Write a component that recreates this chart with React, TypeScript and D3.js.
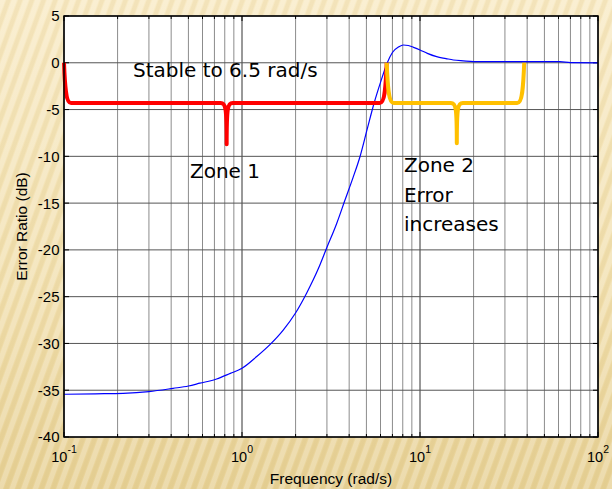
import React from "react";
import * as d3 from "d3";

// error ratio curve
const freq = [0.1, 0.15, 0.215, 0.3, 0.41, 0.5, 0.58, 0.72, 0.86, 1.0, 1.21, 1.44, 1.7, 1.99, 2.31, 2.69, 2.99, 3.4, 3.79, 4.2, 4.6, 5.05, 5.52, 6.0, 6.55, 7.0, 7.6, 8.06, 8.6, 9.2, 10, 11, 12.4, 14, 15.4, 17.5, 20, 25, 30, 40, 61, 70, 100];
const errorDb = [-35.43, -35.38, -35.33, -35.15, -34.8, -34.55, -34.25, -33.8, -33.2, -32.66, -31.4, -30.1, -28.6, -26.8, -24.6, -21.97, -19.8, -17.2, -14.67, -12.3, -10.04, -7.1, -4.33, -2.1, 0.01, 1.1, 1.7, 1.9, 1.85, 1.65, 1.37, 1.0, 0.65, 0.45, 0.3, 0.2, 0.12, 0.12, 0.12, 0.12, 0.12, 0.02, 0];

const yTicks = [5, 0, -5, -10, -15, -20, -25, -30, -35, -40];
const xDecades = [0.1, 1, 10, 100];
const xExponents = ["-1", "0", "1", "2"];

// zone braces: start, tip, end frequency ; edge / level / tip dB
const braceStart = [0.1, 6.5];
const braceTip = [0.82, 16.1];
const braceEnd = [6.5, 38.5];
const braceEdge = [0, 0];
const braceLevel = [-4.3, -4.3];
const braceTipLevel = [-8.7, -8.6];
const braceColors = ["#ff0000", "#ffc000"];

// annotations
const noteText = ["Stable to 6.5 rad/s", "Zone 1", "Zone 2", "Error", "increases"];
const noteFreq = [0.244, 0.51, 8.13, 8.13, 8.13];
const noteDb = [-1.5, -12.3, -11.7, -14.9, -18.0];

const W = 612, H = 489;
const left = 64, right = 598, top = 16, bottom = 437;

export default function App() {
  const x = d3.scaleLog().domain([0.1, 100]).range([left, right]);
  const y = d3.scaleLinear().domain([-40, 5]).range([bottom, top]);
  const isDecade = (t: number) => xDecades.some((d) => Math.abs(d - t) < 1e-9);
  const minor = x.ticks().filter((t) => !isDecade(t));

  const line = d3.line<number>()
    .x((d, i) => x(freq[i]))
    .y((d) => y(d))
    .curve(d3.curveMonotoneX);

  function bracePath(i: number) {
    const x0 = x(braceStart[i]), x1 = x(braceEnd[i]), xt = x(braceTip[i]);
    const y0 = y(braceEdge[i]), yf = y(braceLevel[i]), yt = y(braceTipLevel[i]);
    const r = 7;
    return `M${x0},${y0} C${x0 + 1},${yf - 14} ${x0 + 2},${yf} ${x0 + r},${yf} ` +
      `L${xt - 6},${yf} C${xt - 1},${yf} ${xt},${yf + 4} ${xt},${yt} ` +
      `C${xt},${yf + 4} ${xt + 1},${yf} ${xt + 6},${yf} ` +
      `L${x1 - r},${yf} C${x1 - 2},${yf} ${x1 - 1},${yf - 14} ${x1},${y0}`;
  }

  const font = "'Liberation Sans', Arial, sans-serif";

  return (
    <div>
      <style>{`body{margin:0}`}</style>
      <svg width={W} height={H} style={{ display: "block" }}>
        <defs>
          <linearGradient id="bg" x1="0" y1="0" x2="0" y2="1">
            <stop offset="0" stopColor="#f8eac5" />
            <stop offset="0.6" stopColor="#f1dfae" />
            <stop offset="1" stopColor="#e7d196" />
          </linearGradient>
          <pattern id="stripes" width="11" height="11" patternUnits="userSpaceOnUse" patternTransform="rotate(20)">
            <rect width="5" height="11" fill="#ffffff" opacity="0.22" />
            <rect x="6" width="4" height="11" fill="#c9a95a" opacity="0.1" />
          </pattern>
        </defs>
        <rect width={W} height={H} fill="url(#bg)" />
        <rect width={W} height={H} fill="url(#stripes)" />

        <rect x={left} y={top} width={right - left} height={bottom - top} fill="#fff" />

        {/* grid */}
        {minor.map((t, i) => (
          <line key={"vm" + i} x1={x(t)} x2={x(t)} y1={top} y2={bottom} stroke="#8c8c8c" strokeWidth={1} />
        ))}
        {xDecades.map((t, i) => (
          <line key={"vd" + i} x1={x(t)} x2={x(t)} y1={top} y2={bottom} stroke="#333" strokeWidth={1} />
        ))}
        {yTicks.map((t, i) => (
          <line key={"h" + i} x1={left} x2={right} y1={y(t)} y2={y(t)} stroke="#555" strokeWidth={1} />
        ))}

        {/* ticks */}
        {x.ticks().map((t, i) => {
          const len = isDecade(t) ? 5 : 3;
          return (
            <g key={"xt" + i} stroke="#000" strokeWidth={1}>
              <line x1={x(t)} x2={x(t)} y1={bottom} y2={bottom - len} />
              <line x1={x(t)} x2={x(t)} y1={top} y2={top + len} />
            </g>
          );
        })}
        {yTicks.map((t, i) => (
          <g key={"yt" + i} stroke="#000" strokeWidth={1}>
            <line x1={left} x2={left + 5} y1={y(t)} y2={y(t)} />
            <line x1={right} x2={right - 5} y1={y(t)} y2={y(t)} />
          </g>
        ))}

        {/* curve */}
        <path d={line(errorDb) || ""} fill="none" stroke="#0000ff" strokeWidth={1.2} />

        {/* braces */}
        {braceStart.map((s, i) => (
          <path key={"b" + i} d={bracePath(i)} fill="none" stroke={braceColors[i]} strokeWidth={4} strokeLinejoin="round" />
        ))}

        <rect x={left} y={top} width={right - left} height={bottom - top} fill="none" stroke="#000" strokeWidth={1.5} />

        {/* tick labels */}
        {yTicks.map((t, i) => (
          <text key={"yl" + i} x={left - 4.5} y={y(t)} dy="0.36em" textAnchor="end" fontFamily={font} fontSize={15} fill="#000">
            {t}
          </text>
        ))}
        {xDecades.map((t, i) => (
          <text key={"xl" + i} x={x(t)} y={462} textAnchor="middle" fontFamily={font} fontSize={14.5} fill="#000">
            10
            <tspan fontSize={10.5} dy={-9}>{xExponents[i]}</tspan>
          </text>
        ))}

        <text x={(left + right) / 2} y={484} textAnchor="middle" fontFamily={font} fontSize={15.5} fill="#000">
          Frequency (rad/s)
        </text>
        <text transform={`translate(27,${(top + bottom) / 2}) rotate(-90)`} textAnchor="middle" fontFamily={font} fontSize={15.5} fill="#000">
          Error Ratio (dB)
        </text>

        {/* annotations */}
        {noteText.map((t, i) => (
          <text key={"n" + i} x={x(noteFreq[i])} y={y(noteDb[i])} fontFamily="'DejaVu Sans', sans-serif" fontSize={20} fill="#000">
            {t}
          </text>
        ))}
      </svg>
    </div>
  );
}
